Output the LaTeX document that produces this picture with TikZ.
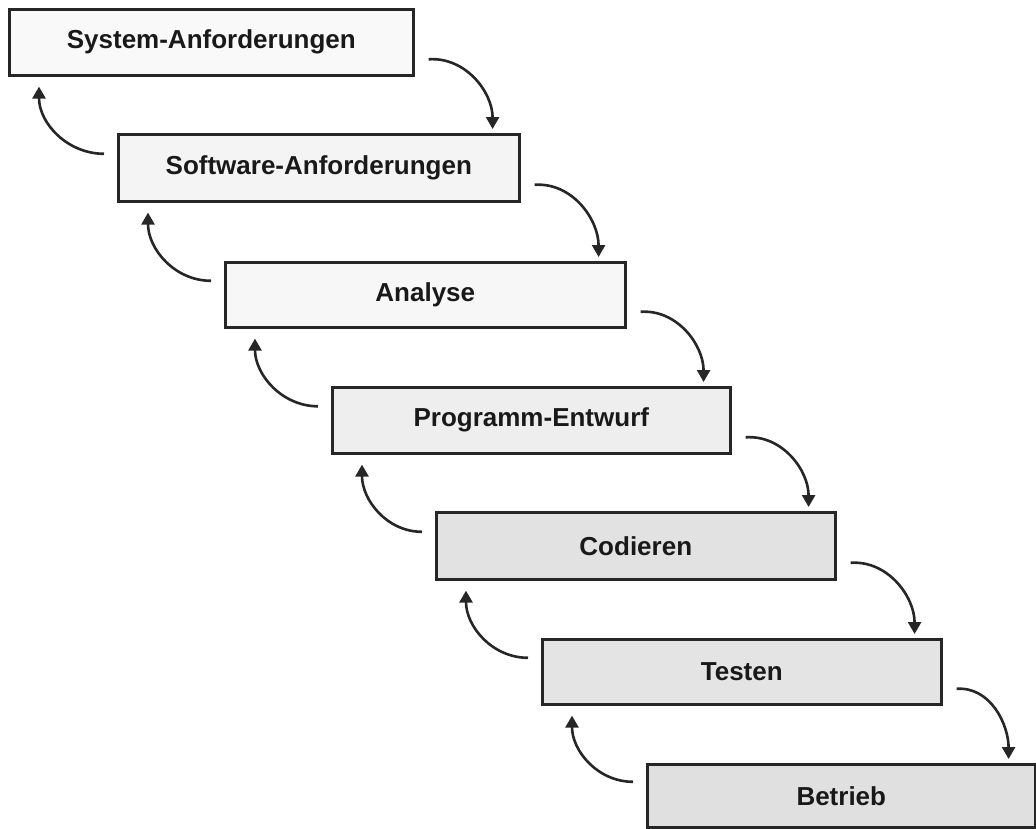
\documentclass[tikz,border=0pt]{standalone}
\usepackage{fontspec}
\setmainfont{Liberation Sans}
\usetikzlibrary{arrows.meta}
\begin{document}
\begin{tikzpicture}[x=1pt,y=-1pt,
  phase/.style={draw=black!85, line width=2.6pt, fill=gray!#1,
    minimum width=400pt, minimum height=66pt, anchor=north west,
    inner sep=0pt, font=\fontsize{26}{30}\selectfont\bfseries, text=black!90},
  flow/.style={line width=2.6pt, draw=black!85,
    -{Triangle[length=12pt,width=13pt]}},
  down/.style={flow, out=4, in=90},
  back/.style={flow, out=180, in=270}]
\useasboundingbox (0,0) rectangle (1036,828);

% the seven phases, stepping down to the right
\node[phase=5,  minimum width=404pt] (p1) at (8,8)   {System-Anforderungen};
\node[phase=9,  minimum width=401pt, minimum height=67pt] (p2) at (117,133) {Software-Anforderungen};
\node[phase=6,  minimum height=65pt] (p3) at (224,261) {Analyse};
\node[phase=13, minimum width=398pt] (p4) at (331,386) {Programm-Entwurf};
\node[phase=23, minimum width=399pt, minimum height=67pt] (p5) at (435,511) {Codieren};
\node[phase=21, minimum width=399pt, minimum height=65pt] (p6) at (541,638) {Testen};
\node[phase=24, minimum width=388pt, minimum height=63pt] (p7) at (646,763) {Betrieb};

% forward transitions: out of the right side, down onto the next phase
\foreach \a/\b in {p1/p2,p2/p3,p3/p4,p4/p5,p5/p6,p6/p7}{
  \draw[down] ([xshift=14pt,yshift=-17pt]\a.east) to ([xshift=-28pt,yshift=4pt]\b.north east);
}

% feedback: out of the left side, back up to the previous phase
\foreach \a/\b in {p1/p2,p2/p3,p3/p4,p4/p5,p5/p6,p6/p7}{
  \draw[back] ([xshift=-13pt,yshift=14pt]\b.west) to ([xshift=31pt,yshift=-10pt]\a.south west);
}
\end{tikzpicture}
\end{document}
